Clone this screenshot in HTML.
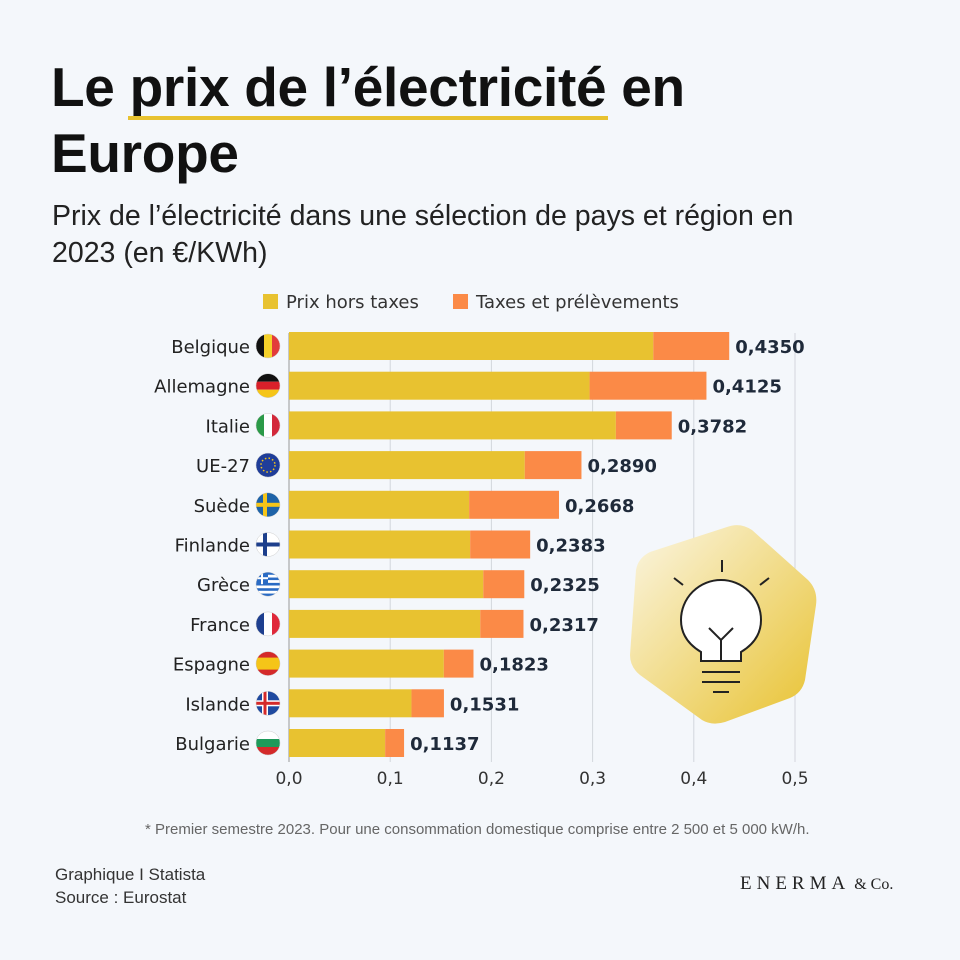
<!DOCTYPE html>
<html><head><meta charset="utf-8">
<style>
body{margin:0;background:#f4f7fb;}
#root{position:relative;width:960px;height:960px;background:#f4f7fb;font-family:"Liberation Sans",sans-serif;overflow:hidden}
.t{position:absolute;white-space:nowrap}
</style></head>
<body>
<div id="root">
<div class="t" style="left:51px;top:54px;font-size:55px;font-weight:bold;color:#111;line-height:66px;letter-spacing:-0.3px">Le prix de l’électricité en<br>Europe</div>
<div style="position:absolute;left:128px;top:116px;width:480px;height:4px;background:#e8c230"></div>
<div class="t" style="left:52px;top:198px;font-size:28.5px;color:#222;line-height:37px">Prix de l’électricité dans une sélection de pays et région en<br>2023 (en €/KWh)</div>
<svg id="chart" width="960" height="960" style="position:absolute;left:0;top:0"></svg>
<div class="t" style="left:145px;top:821px;font-size:15px;color:#666">* Premier semestre 2023. Pour une consommation domestique comprise entre 2 500 et 5 000 kW/h.</div>
<div class="t" style="left:55px;top:863px;font-size:17px;color:#333;line-height:23px">Graphique I Statista<br>Source : Eurostat</div>
<div class="t" style="left:740px;top:873px;font-family:'Liberation Serif',serif;font-size:19px;color:#222;letter-spacing:5px">ENERMA<span style="letter-spacing:0;font-size:16px"> &amp; Co.</span></div>
</div>
<script>
const categories=["Belgique","Allemagne","Italie","UE-27","Suède","Finlande","Grèce","France","Espagne","Islande","Bulgarie"];
const preTax=[0.360,0.297,0.323,0.233,0.178,0.179,0.192,0.189,0.153,0.121,0.095];
const totals=[0.4350,0.4125,0.3782,0.2890,0.2668,0.2383,0.2325,0.2317,0.1823,0.1531,0.1137];
const totalLabels=["0,4350","0,4125","0,3782","0,2890","0,2668","0,2383","0,2325","0,2317","0,1823","0,1531","0,1137"];
const ticks=[0,0.1,0.2,0.3,0.4,0.5];
const tickLabels=["0,0","0,1","0,2","0,3","0,4","0,5"];
const flags=[["#111","#f5d12a","#e23b3b"],["#111","#d9202a","#f5c518"],["#2b9a48","#fff","#d3283a"],"eu",["#f0c020"],"fi","gr",["#1e3f8f","#fff","#e0283a"],"es","is","bg"];
const svg=document.getElementById('chart');
const NS='http://www.w3.org/2000/svg';
const x=v=>289+v*1012;
const y=i=>346+i*39.7;
function mk(tag,attrs,parent){const e=document.createElementNS(NS,tag);for(const k in attrs)e.setAttribute(k,attrs[k]);(parent||svg).appendChild(e);return e;}
ticks.forEach((t,i)=>{
 const l=mk('line',{x1:x(t),x2:x(t),y1:333,y2:762,stroke:i==0?'#999':'#d3d6dc','stroke-width':1});
 
 
 const tx=mk('text',{x:x(t),y:784,'text-anchor':'middle','font-size':17,fill:'#333','font-family':'DejaVu Sans, sans-serif'});
 tx.textContent=tickLabels[i];
 
 
});
const lg=[["Prix hors taxes","#e8c230",263],["Taxes et prélèvements","#fb8a47",453]];
lg.forEach(d=>{
 const r=mk('rect',{x:d[2],y:294,width:15,height:15,fill:d[1]});
 
 
 const t=mk('text',{x:d[2]+23,y:308,'font-size':18,fill:'#333','font-family':'DejaVu Sans, sans-serif'});
 t.textContent=d[0];
 
 
});
const defs=mk('defs',{});
const g=mk('linearGradient',{id:'hg',x1:'0',y1:'0',x2:'1',y2:'1'},defs);
mk('stop',{offset:'0','stop-color':'#fbf6e4'},g);mk('stop',{offset:'1','stop-color':'#e8c230'},g);
const hex=mk('path',{d:'M727 527 Q740 522 752 530 L808 580 Q818 590 816 605 L805 680 Q802 693 790 698 L725 722 Q712 726 702 720 L640 675 Q630 667 630 655 L636 570 Q638 558 650 552 Z',fill:'url(#hg)'});


const bulb=mk('g',{stroke:'#222','stroke-width':2,fill:'none'});


mk('path',{d:'M701 661 L701 652 Q681 640 681 620 A40 40 0 0 1 761 620 Q761 640 741 652 L741 661 Z',fill:'#fff'},bulb);
mk('path',{d:'M709 628 L721 640 L733 628 M721 640 L721 662 M702 672 L740 672 M702 682 L740 682 M713 692 L729 692 M722 560 L722 572 M674 578 L683 585 M769 578 L760 585'},bulb);
categories.forEach((c,i)=>{
 const yc=y(i);
 const b1=mk('rect',{x:x(0),y:yc-14,width:x(preTax[i])-x(0),height:28,fill:'#e8c230'});
 
 
 const b2=mk('rect',{x:x(preTax[i]),y:yc-14,width:x(totals[i])-x(preTax[i]),height:28,fill:'#fb8a47'});
 
 
 const v=mk('text',{x:x(totals[i])+6,y:yc+7,'font-size':18,'font-weight':'bold',fill:'#1f2a3a','font-family':'DejaVu Sans, sans-serif'});
 v.textContent=totalLabels[i];
 
 
 const l=mk('text',{x:250,y:yc+7,'text-anchor':'end','font-size':18,fill:'#222','font-family':'DejaVu Sans, sans-serif'});
 l.textContent=c;
 
 
 const fg=mk('g',{});
 
 
 const cx=268,r=12;
 const cid='c'+i;
 const cp=mk('clipPath',{id:cid},defs);mk('circle',{cx:cx,cy:yc,r:r},cp);
 const inner=mk('g',{'clip-path':'url(#'+cid+')'},fg);
 const f=flags[i];
 if(Array.isArray(f)&&f.length==3){
  const vert=(c==='Belgique'||c==='Italie'||c==='France');
  f.forEach((col,k)=>{ if(vert) mk('rect',{x:cx-r+k*8,y:yc-r,width:8,height:24,fill:col},inner); else mk('rect',{x:cx-r,y:yc-r+k*8,width:24,height:8,fill:col},inner);});
 } else if(c==='Suède'){
  mk('rect',{x:cx-r,y:yc-r,width:24,height:24,fill:'#1e63a8'},inner);
  mk('rect',{x:cx-r,y:yc-2,width:24,height:4,fill:'#f5c518'},inner);mk('rect',{x:cx-5,y:yc-r,width:4,height:24,fill:'#f5c518'},inner);
 } else if(f==='eu'){
  mk('rect',{x:cx-r,y:yc-r,width:24,height:24,fill:'#1f3d99'},inner);
  mk('circle',{cx:cx,cy:yc,r:7,fill:'none',stroke:'#f5c518','stroke-width':1.5,'stroke-dasharray':'1.5 2.2'},inner);
 } else if(f==='fi'){
  mk('rect',{x:cx-r,y:yc-r,width:24,height:24,fill:'#fff'},inner);
  mk('rect',{x:cx-r,y:yc-2,width:24,height:4,fill:'#1d3f8c'},inner);mk('rect',{x:cx-5,y:yc-r,width:4,height:24,fill:'#1d3f8c'},inner);
 } else if(f==='gr'){
  for(let k=0;k<9;k++) mk('rect',{x:cx-r,y:yc-r+k*2.67,width:24,height:2.67,fill:k%2?'#fff':'#2a6bc4'},inner);
  mk('rect',{x:cx-r,y:yc-r,width:12,height:12,fill:'#2a6bc4'},inner);
  mk('rect',{x:cx-r,y:yc-7,width:12,height:2,fill:'#fff'},inner);mk('rect',{x:cx-7,y:yc-r,width:2,height:12,fill:'#fff'},inner);
 } else if(f==='es'){
  mk('rect',{x:cx-r,y:yc-r,width:24,height:24,fill:'#d42a2a'},inner);
  mk('rect',{x:cx-r,y:yc-6,width:24,height:12,fill:'#f5c518'},inner);
 } else if(f==='is'){
  mk('rect',{x:cx-r,y:yc-r,width:24,height:24,fill:'#1f4aa0'},inner);
  mk('rect',{x:cx-r,y:yc-3,width:24,height:6,fill:'#fff'},inner);mk('rect',{x:cx-6,y:yc-r,width:6,height:24,fill:'#fff'},inner);
  mk('rect',{x:cx-r,y:yc-1.5,width:24,height:3,fill:'#d42a2a'},inner);mk('rect',{x:cx-4.5,y:yc-r,width:3,height:24,fill:'#d42a2a'},inner);
 } else if(f==='bg'){
  ['#fff','#1e9a5a','#d42a2a'].forEach((col,k)=>mk('rect',{x:cx-r,y:yc-r+k*8,width:24,height:8,fill:col},inner));
 }
 mk('circle',{cx:cx,cy:yc,r:r,fill:'none',stroke:'#ccc','stroke-width':0.5},fg);
});
</script>
</body></html>
